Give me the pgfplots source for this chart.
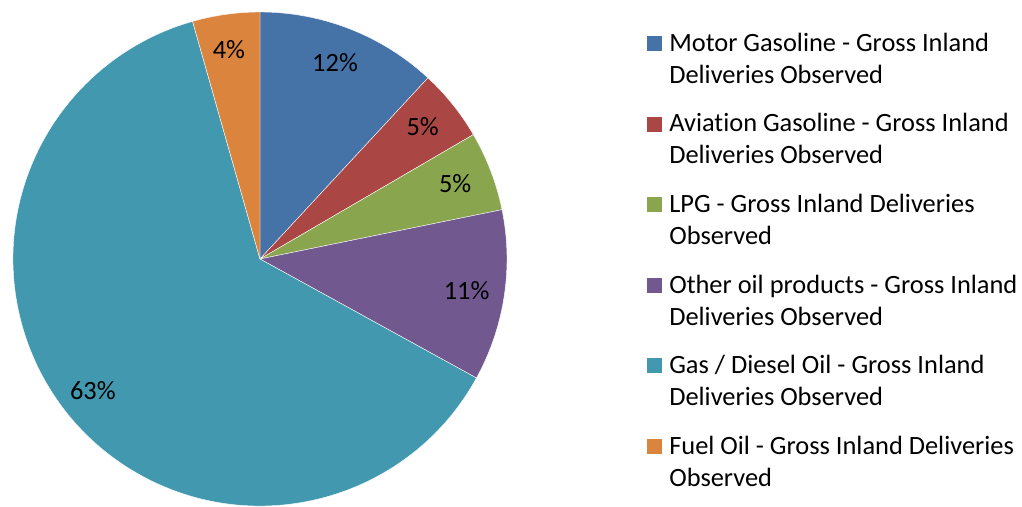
\documentclass[border=0pt]{standalone}
\usepackage{pgfplots}
\pgfplotsset{compat=1.18}
\usepackage{pgfplotstable}
\usepackage{fontspec}
\setmainfont{Carlito}[Ligatures=NoCommon]
\definecolor{c0}{HTML}{4572A7}
\definecolor{c1}{HTML}{AA4643}
\definecolor{c2}{HTML}{89A54E}
\definecolor{c3}{HTML}{71588F}
\definecolor{c4}{HTML}{4198AF}
\definecolor{c5}{HTML}{DB843D}
% share of each product, percent (clockwise from 12 o'clock)
\pgfplotstableread{
value
11.9
4.7
5.2
11.2
62.6
4.4
}\pietable
\pgfmathsetmacro\cum{0}
\pgfplotsforeachungrouped \i in {0,...,5}{%
  \pgfplotstablegetelem{\i}{value}\of\pietable
  \let\v\pgfplotsretval
  \pgfmathsetmacro\sa{90-3.6*\cum}%
  \pgfmathsetmacro\ea{90-3.6*(\cum+\v)}%
  \pgfmathsetmacro\ma{(\sa+\ea)/2}%
  \pgfmathtruncatemacro\lab{round(\v)}%
  \expandafter\xdef\csname sa\i\endcsname{\sa}%
  \expandafter\xdef\csname ea\i\endcsname{\ea}%
  \expandafter\xdef\csname ma\i\endcsname{\ma}%
  \expandafter\xdef\csname lb\i\endcsname{\lab}%
  \pgfmathsetmacro\cum{\cum+\v}%
}
\begin{document}
\begin{tikzpicture}
\fontsize{19.8pt}{24pt}\selectfont
\begin{axis}[scale only axis, width=766.5pt, height=379.5pt,
  xmin=0, xmax=1022, ymin=0, ymax=506, y dir=reverse,
  hide axis, clip=false]
\pgfplotsinvokeforeach{0,...,5}{
  \fill[c#1, draw=white, line width=0.3pt] (axis cs:260,259) -- ++(\csname sa#1\endcsname:185.25pt)
    arc[start angle=\csname sa#1\endcsname, end angle=\csname ea#1\endcsname, radius=185.25pt] -- cycle;
}
\pgfplotsinvokeforeach{0,...,5}{
  \path (axis cs:258,259) ++(\csname ma#1\endcsname:158.25pt)
    node[inner sep=0pt, font=\fontsize{19.8pt}{20pt}\selectfont] {\csname lb#1\endcsname\%};
}
% legend
\fill[c0] (axis cs:647,36) rectangle (axis cs:662,51);
\node[anchor=base west, inner sep=0pt] at (axis cs:669,51.2) {Motor Gasoline - Gross Inland};
\node[anchor=base west, inner sep=0pt] at (axis cs:669,83.2) {Deliveries Observed};
\fill[c1] (axis cs:647,116.6) rectangle (axis cs:662,131.6);
\node[anchor=base west, inner sep=0pt] at (axis cs:669,131.8) {Aviation Gasoline - Gross Inland};
\node[anchor=base west, inner sep=0pt] at (axis cs:669,163.8) {Deliveries Observed};
\fill[c2] (axis cs:647,197.2) rectangle (axis cs:662,212.2);
\node[anchor=base west, inner sep=0pt] at (axis cs:669,212.4) {LPG - Gross Inland Deliveries};
\node[anchor=base west, inner sep=0pt] at (axis cs:669,244.4) {Observed};
\fill[c3] (axis cs:647,277.8) rectangle (axis cs:662,292.8);
\node[anchor=base west, inner sep=0pt] at (axis cs:669,293.0) {Other oil products - Gross Inland};
\node[anchor=base west, inner sep=0pt] at (axis cs:669,325.0) {Deliveries Observed};
\fill[c4] (axis cs:647,358.4) rectangle (axis cs:662,373.4);
\node[anchor=base west, inner sep=0pt] at (axis cs:669,373.6) {Gas / Diesel Oil - Gross Inland};
\node[anchor=base west, inner sep=0pt] at (axis cs:669,405.6) {Deliveries Observed};
\fill[c5] (axis cs:647,439) rectangle (axis cs:662,454);
\node[anchor=base west, inner sep=0pt] at (axis cs:669,454.2) {Fuel Oil - Gross Inland Deliveries};
\node[anchor=base west, inner sep=0pt] at (axis cs:669,486.2) {Observed};
\end{axis}
\pgfresetboundingbox
\useasboundingbox (current axis.south west) rectangle (current axis.north east);
\end{tikzpicture}
\end{document}
